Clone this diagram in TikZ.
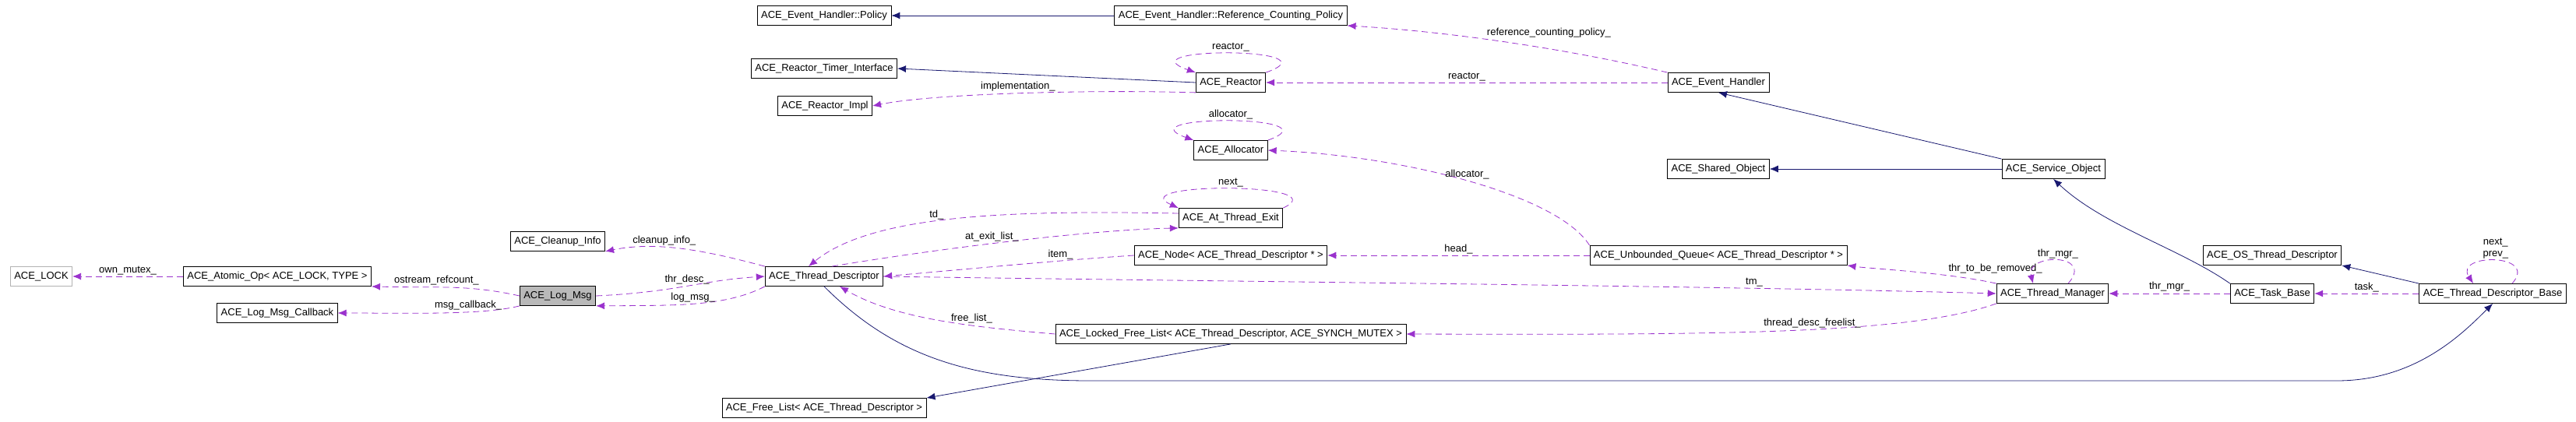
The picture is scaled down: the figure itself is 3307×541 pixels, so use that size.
\documentclass[tikz,border=0pt]{standalone}
\usepackage{fontspec}
\setmainfont{Liberation Sans}
\usetikzlibrary{arrows.meta}
\definecolor{usecol}{HTML}{9A32CD}
\definecolor{inhcol}{HTML}{191970}
\tikzset{
  cls/.style={draw,thick,minimum height=25pt,inner xsep=5pt,inner ysep=0pt,font=\fontsize{13}{15}\selectfont},
  uses/.style={usecol,thick,dashed,dash pattern=on 8pt off 5pt,-{Latex[length=11pt,width=9pt]}},
  inherits/.style={inhcol,thick,-{Latex[length=11pt,width=9pt]}},
  lbl/.style={text=black,font=\fontsize{13}{15}\selectfont,inner sep=2pt}
}
\begin{document}
\begin{tikzpicture}[x=1pt,y=-1pt]
  \useasboundingbox (0,0) rectangle (3307,541);
  % classes
  \node[cls,draw=gray!60] (LOCK) at (53,355) {ACE\_LOCK};
  \node[cls] (AtomicOp) at (356,355) {ACE\_Atomic\_Op< ACE\_LOCK, TYPE >};
  \node[cls] (LogMsgCb) at (356,402) {ACE\_Log\_Msg\_Callback};
  \node[cls,fill=gray!55] (LogMsg) at (716,380) {ACE\_Log\_Msg};
  \node[cls] (Cleanup) at (716,310) {ACE\_Cleanup\_Info};
  \node[cls] (TD) at (1058,355) {ACE\_Thread\_Descriptor};
  \node[cls] (FreeList) at (1058,524) {ACE\_Free\_List< ACE\_Thread\_Descriptor >};
  \node[cls] (LockedFL) at (1580,429) {ACE\_Locked\_Free\_List< ACE\_Thread\_Descriptor, ACE\_SYNCH\_MUTEX >};
  \node[cls] (Node) at (1580,328) {ACE\_Node< ACE\_Thread\_Descriptor * >};
  \node[cls] (ATE) at (1580,280) {ACE\_At\_Thread\_Exit};
  \node[cls] (Policy) at (1058,20) {ACE\_Event\_Handler::Policy};
  \node[cls] (RCPolicy) at (1580,20) {ACE\_Event\_Handler::Reference\_Counting\_Policy};
  \node[cls] (TimerIf) at (1058,88) {ACE\_Reactor\_Timer\_Interface};
  \node[cls] (Reactor) at (1580,106) {ACE\_Reactor};
  \node[cls] (ReactorImpl) at (1059,136) {ACE\_Reactor\_Impl};
  \node[cls] (Allocator) at (1580,193) {ACE\_Allocator};
  \node[cls] (EvHandler) at (2206,106) {ACE\_Event\_Handler};
  \node[cls] (SharedObj) at (2206,217) {ACE\_Shared\_Object};
  \node[cls] (ServiceObj) at (2636,217) {ACE\_Service\_Object};
  \node[cls] (UQueue) at (2206,328) {ACE\_Unbounded\_Queue< ACE\_Thread\_Descriptor * >};
  \node[cls] (ThrMgr) at (2635,377) {ACE\_Thread\_Manager};
  \node[cls] (OSTD) at (2917,328) {ACE\_OS\_Thread\_Descriptor};
  \node[cls] (TaskBase) at (2917,377) {ACE\_Task\_Base};
  \node[cls] (TDBase) at (3200,377) {ACE\_Thread\_Descriptor\_Base};
  % inheritance
  \draw[inherits] (RCPolicy) -- (Policy);
  \draw[inherits] (Reactor.west) -- (TimerIf.east);
  \draw[inherits] (ServiceObj) -- (SharedObj);
  \draw[inherits] (ServiceObj.north west) -- (EvHandler.south);
  \draw[inherits] (TaskBase.north west) .. controls (2800,320) and (2700,290) .. (ServiceObj.south);
  \draw[inherits] (TDBase.north west) -- (OSTD.south east);
  \draw[inherits] (LockedFL.south) -- (FreeList.north east);
  \draw[inherits] (TD.south) .. controls (1150,460) and (1250,489) .. (1400,489) -- (3000,489) .. controls (3100,489) and (3160,430) .. (TDBase.south);
  % usage
  \draw[uses] (AtomicOp) -- node[lbl,above]{own\_mutex\_} (LOCK);
  \draw[uses] (LogMsg.west) .. controls (600,365) and (560,370) .. node[lbl,above,pos=0.6]{ostream\_refcount\_} (AtomicOp.south east);
  \draw[uses] (LogMsg.south west) .. controls (620,405) and (520,402) .. node[lbl,above,pos=0.35]{msg\_callback\_} (LogMsgCb.east);
  \draw[uses] (LogMsg.east) .. controls (870,375) and (900,360) .. node[lbl,above]{thr\_desc\_} (TD.west);
  \draw[uses] (TD.south west) .. controls (930,395) and (860,392) .. node[lbl,above]{log\_msg\_} (LogMsg.south east);
  \draw[uses] (TD.north west) .. controls (900,320) and (840,310) .. node[lbl,above,pos=0.6]{cleanup\_info\_} (Cleanup.south east);
  \draw[uses] (ATE.west) ++(0,-6) .. controls (1300,270) and (1120,275) .. node[lbl,above,pos=0.55]{td\_} ([xshift=-20pt]TD.north);
  \draw[uses] ([xshift=10pt]TD.north) .. controls (1200,320) and (1400,295) .. node[lbl,above,pos=0.45]{at\_exit\_list\_} (ATE.south west);
  \draw[uses] (Node.west) .. controls (1350,335) and (1250,345) .. node[lbl,above,pos=0.3]{item\_} (TD.east);
  \draw[uses] (TD.east) .. controls (1600,362) and (2200,367) .. node[lbl,above,pos=0.75]{tm\_} (ThrMgr.west);
  \draw[uses] (LockedFL.west) .. controls (1250,420) and (1150,410) .. node[lbl,above,pos=0.35]{free\_list\_} ([xshift=20pt]TD.south);
  \draw[uses] (UQueue.west) -- node[lbl,above]{head\_} (Node.east);
  \draw[uses] (UQueue.north west) .. controls (2000,250) and (1800,200) .. node[lbl,above,pos=0.5]{allocator\_} (Allocator.east);
  \draw[uses] (EvHandler.west) -- node[lbl,above]{reactor\_} (Reactor.east);
  \draw[uses] (EvHandler.north west) .. controls (2000,60) and (1850,40) .. node[lbl,above right,pos=0.55]{reference\_counting\_policy\_} (RCPolicy.south east);
  \draw[uses] (Reactor.south west) .. controls (1400,115) and (1200,120) .. node[lbl,above,pos=0.5]{implementation\_} (ReactorImpl.east);
  \draw[uses] (ThrMgr.north west) .. controls (2500,350) and (2400,345) .. node[lbl,above right,pos=0.3]{thr\_to\_be\_removed\_} (UQueue.south east);
  \draw[uses] (ThrMgr.south west) .. controls (2450,430) and (2200,430) .. node[lbl,above,pos=0.45]{thread\_desc\_freelist\_} (LockedFL.east);
  \draw[uses] (TaskBase) -- node[lbl,above]{thr\_mgr\_} (ThrMgr);
  \draw[uses] (TDBase) -- node[lbl,above]{task\_} (TaskBase);
  % self loops
  \draw[uses] (Reactor.north east) .. controls (1720,60) and (1440,60) .. node[lbl,above]{reactor\_} (Reactor.north west);
  \draw[uses] (Allocator.north east) .. controls (1720,147) and (1440,147) .. node[lbl,above]{allocator\_} (Allocator.north west);
  \draw[uses] (ATE.north east) .. controls (1720,234) and (1440,234) .. node[lbl,above]{next\_} (ATE.north west);
  \draw[uses] ([xshift=20pt]ThrMgr.north) .. controls (2690,325) and (2600,325) .. node[lbl,above]{thr\_mgr\_} ([xshift=-25pt]ThrMgr.north);
  \draw[uses] ([xshift=25pt]TDBase.north) .. controls (3260,325) and (3150,325) .. node[lbl,above,align=center]{next\_\\prev\_} ([xshift=-25pt]TDBase.north);
\end{tikzpicture}
\end{document}
